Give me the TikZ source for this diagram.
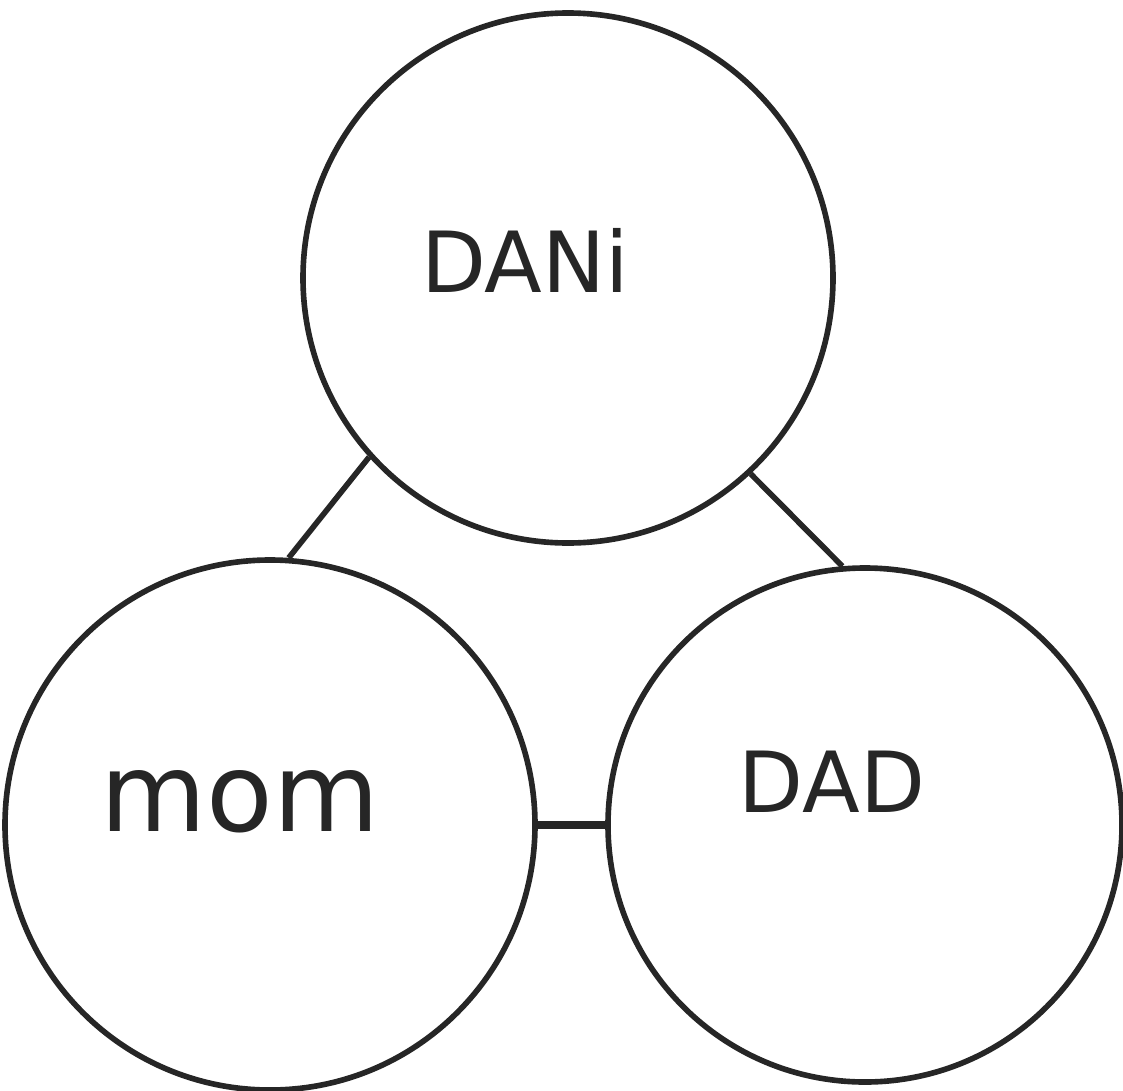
\documentclass[tikz,border=0pt]{standalone}
\usepackage{fontspec}
\setmainfont{DejaVu Sans}
\usetikzlibrary{positioning}

\begin{document}
\begin{tikzpicture}[
  person/.style={
    draw=black!85, line width=1.6pt,
    circle, minimum size=#1, inner sep=0pt
  },
  who/.style={font=\fontsize{24}{28}\selectfont, text=black!85, inner sep=0pt},
  tie/.style={draw=black!85, line width=1.6pt}
]
\useasboundingbox (0,0) rectangle (11.23,10.90);

% circles
\node[person=5.30cm] (dani) at (5.68,8.12) {};
\node[person=5.30cm] (mom) at (2.70,2.65) {};
\node[person=5.14cm] (dad) at (8.65,2.65) {};

% names
\node[who] (daniname) at (5.25,8.30) {DANi};
\node[who, font=\fontsize{31}{36}\selectfont] (momname) at (2.40,2.88) {mom};
\node[who] (dadname) at (8.32,3.08) {DAD};

% ties
\draw[tie] (dani.222) -- (mom.86);
\draw[tie] (dani.313) -- (dad.95);
\draw[tie, line width=2.2pt] (mom.0) -- (dad.180);
\end{tikzpicture}
\end{document}
